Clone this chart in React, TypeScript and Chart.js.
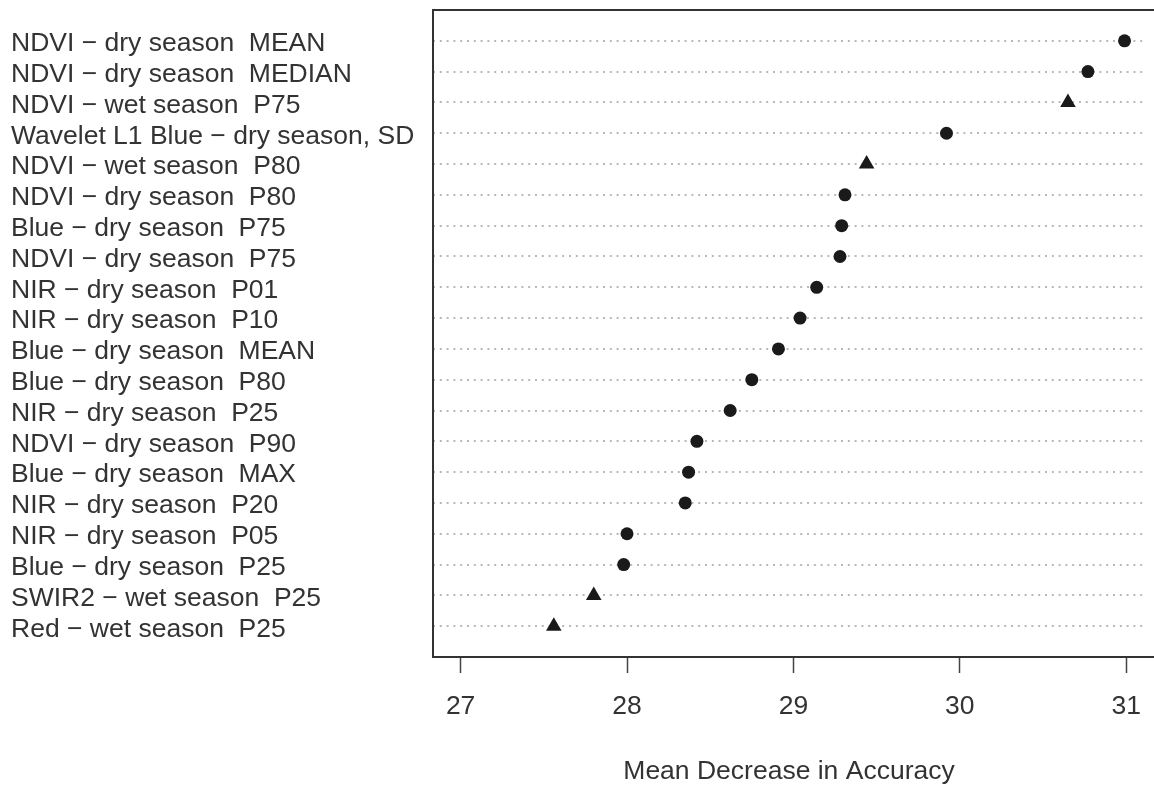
import React, { useEffect, useRef } from "react";
import { Chart, registerables } from "chart.js";

Chart.register(...registerables);

const labels: string[] = [
  "NDVI − dry season  MEAN",
  "NDVI − dry season  MEDIAN",
  "NDVI − wet season  P75",
  "Wavelet L1 Blue − dry season, SD",
  "NDVI − wet season  P80",
  "NDVI − dry season  P80",
  "Blue − dry season  P75",
  "NDVI − dry season  P75",
  "NIR − dry season  P01",
  "NIR − dry season  P10",
  "Blue − dry season  MEAN",
  "Blue − dry season  P80",
  "NIR − dry season  P25",
  "NDVI − dry season  P90",
  "Blue − dry season  MAX",
  "NIR − dry season  P20",
  "NIR − dry season  P05",
  "Blue − dry season  P25",
  "SWIR2 − wet season  P25",
  "Red − wet season  P25",
];

const values: number[] = [
  30.99, 30.77, 30.65, 29.92, 29.44, 29.31, 29.29, 29.28, 29.14, 29.04,
  28.91, 28.75, 28.62, 28.42, 28.37, 28.35, 28.0, 27.98, 27.8, 27.56,
];

const seasons: string[] = [
  "dry", "dry", "wet", "dry", "wet", "dry", "dry", "dry", "dry", "dry",
  "dry", "dry", "dry", "dry", "dry", "dry", "dry", "dry", "wet", "wet",
];

const xTicks: number[] = [27, 28, 29, 30, 31];
const xTitle = "Mean Decrease in Accuracy";

const FONT = "'Liberation Sans', Arial, Helvetica, sans-serif";

const boxPlugin = {
  id: "boxPlugin",
  afterDatasetsDraw(chart: any) {
    const { ctx, chartArea, width } = chart;
    ctx.save();
    ctx.strokeStyle = "#333333";
    ctx.lineWidth = 2;
    ctx.beginPath();
    ctx.moveTo(width, chartArea.top);
    ctx.lineTo(chartArea.left, chartArea.top);
    ctx.lineTo(chartArea.left, chartArea.bottom);
    ctx.lineTo(width, chartArea.bottom);
    ctx.stroke();
    ctx.restore();
  },
};

export default function App() {
  const canvasRef = useRef<HTMLCanvasElement | null>(null);

  useEffect(() => {
    if (!canvasRef.current) return;
    const data = values.map((v, i) => ({ x: v, y: i + 1 }));
    const chart = new Chart(canvasRef.current, {
      type: "scatter",
      data: {
        datasets: [
          {
            data,
            showLine: false,
            pointStyle: seasons.map((s) => (s === "wet" ? "triangle" : "circle")) as any,
            pointRadius: seasons.map((s) => (s === "wet" ? 9 : 6.5)),
            pointBackgroundColor: "#1a1a1a",
            pointBorderColor: "#1a1a1a",
            pointBorderWidth: 0,
          },
        ],
      },
      options: {
        animation: false,
        responsive: false,
        devicePixelRatio: 1,
        layout: { padding: { left: 11, right: 0, top: 10, bottom: 0 } },
        plugins: { legend: { display: false }, tooltip: { enabled: false } },
        scales: {
          x: {
            type: "linear",
            min: 26.834,
            max: 31.113,
            afterBuildTicks: (scale: any) => {
              scale.ticks = xTicks.map((v) => ({ value: v }));
            },
            afterFit: (scale: any) => {
              scale.height = 128;
              scale.paddingLeft = 0;
              scale.paddingRight = 0;
            },
            grid: {
              drawOnChartArea: false,
              drawTicks: true,
              tickLength: 16,
              tickColor: "#444444",
              tickWidth: 1.5,
            },
            border: { display: false },
            ticks: {
              color: "#333333",
              padding: 18,
              font: { family: FONT, size: 26.5 },
              maxRotation: 0,
            },
            title: {
              display: true,
              text: xTitle,
              color: "#333333",
              font: { family: FONT, size: 26.5, lineHeight: 1 },
              padding: { top: 0, bottom: 0 },
            },
          },
          y: {
            type: "linear",
            min: 0,
            max: 21,
            reverse: true,
            afterBuildTicks: (scale: any) => {
              const t: any[] = [];
              for (let i = 1; i <= labels.length; i++) t.push({ value: i });
              scale.ticks = t;
            },
            afterFit: (scale: any) => {
              scale.width = 422;
              scale.paddingTop = 0;
              scale.paddingBottom = 0;
            },
            grid: {
              drawTicks: false,
              color: "#b8b8b8",
              lineWidth: 2,
            },
            border: { display: false, dash: [2, 4.8] },
            ticks: {
              color: "#333333",
              padding: 0,
              crossAlign: "far",
              labelOffset: 3,
              autoSkip: false,
              font: { family: FONT, size: 26.5 },
              callback: (v: any) => labels[Number(v) - 1] ?? "",
            },
          },
        },
      },
      plugins: [boxPlugin],
    } as any);
    return () => chart.destroy();
  }, []);

  return (
    <div
      style={{
        position: "fixed",
        left: 0,
        top: 0,
        width: 1154,
        height: 785,
        overflow: "hidden",
        background: "#ffffff",
      }}
    >
      <canvas
        ref={canvasRef}
        width={1154}
        height={785}
        style={{ position: "absolute", left: 0, top: 0, width: 1154, height: 785 }}
      />
    </div>
  );
}
